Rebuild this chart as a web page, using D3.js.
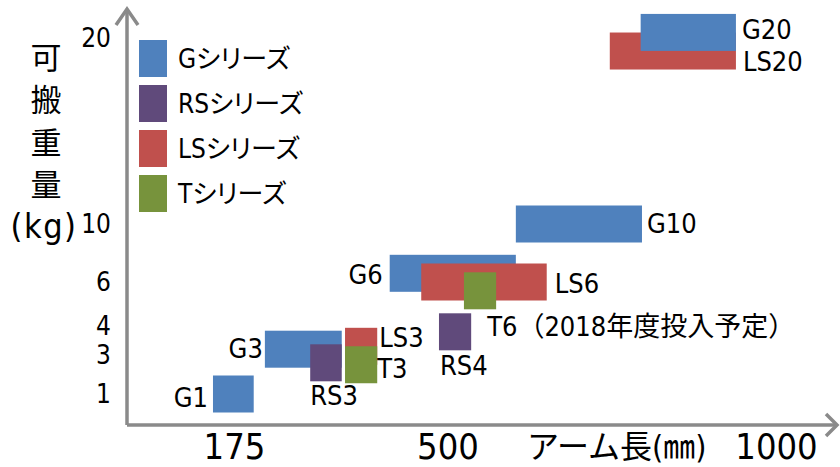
<!DOCTYPE html>
<html>
<head>
<meta charset="utf-8">
<script src="https://cdn.jsdelivr.net/npm/d3@7"></script>
<style>
  html, body { margin: 0; padding: 0; background: #fff; }
  svg text {
    font-family: "DejaVu Sans Condensed", "DejaVu Sans", "Noto Sans CJK JP", sans-serif;
    font-stretch: condensed;
    fill: #000;
  }
  .palt { font-feature-settings: "palt"; }
</style>
</head>
<body>
<svg id="chart" width="840" height="467"></svg>
<script>
// Robot line-up: reach (mm) on x, payload (kg) on y
const seriesNames  = ["Gシリーズ", "RSシリーズ", "LSシリーズ", "Tシリーズ"];
const seriesColors = ["#4F81BD", "#604A7B", "#C0504D", "#77933C"];

// models, listed in drawing order (later ones sit on top)
const models    = ["G1", "G3", "RS3", "LS3", "T3", "RS4", "G6", "LS6", "T6", "G10", "LS20", "G20"];
const modelText = ["G1", "G3", "RS3", "LS3", "T3", "RS4", "G6", "LS6", "T6（2018年度投入予定）", "G10", "LS20", "G20"];
const modelSeries = [0, 0, 1, 2, 3, 1, 0, 2, 3, 0, 2, 0];
const reachMin  = [143, 222, 291, 344, 344, 487, 412, 460, 525, 604, 747, 794];
const reachMax  = [205, 339, 339, 393, 393, 536, 604, 651, 574, 796, 939, 939];
const payload   = [1.0, 3.2, 2.6, 3.3, 2.5, 3.8, 6.6, 6.0, 5.6, 10, 19.3, 20.3];

const xTicks = [175, 500, 1000];
const yTicks = [1, 3, 4, 6, 10, 20];

// ---- layout -------------------------------------------------------------
const origin = { x: 127, y: 425 };
const boxH = 37;

const svg = d3.select("#chart");

const x = d3.scaleLinear().domain([175, 1000]).range([234, 776]);
// payload axis is stretched unevenly so the small sizes get room
const y = d3.scaleLinear().domain(yTicks).range([394, 355, 326, 282, 224, 38]);

const color = d3.scaleOrdinal().domain(d3.range(seriesNames.length)).range(seriesColors);

// label placement per model: side of the box, and nudge in px
const labelPlace = {
  G1:   { anchor: "end",   from: "left",  dx: -5, dy: 3 },
  G3:   { anchor: "end",   from: "left",  dx: -2, dy: -1 },
  RS3:  { anchor: "start", from: "left",  dx: 0,  dy: 32 },
  LS3:  { anchor: "start", from: "right", dx: 2,  dy: -9 },
  T3:   { anchor: "start", from: "right", dx: 0,  dy: 4 },
  RS4:  { anchor: "start", from: "left",  dx: 1,  dy: 33 },
  G6:   { anchor: "end",   from: "left",  dx: -7, dy: 1 },
  LS6:  { anchor: "start", from: "right", dx: 8,  dy: 1 },
  T6:   { anchor: "start", from: "right", dx: -9, dy: 35 },
  G10:  { anchor: "start", from: "right", dx: 5,  dy: -1 },
  LS20: { anchor: "start", from: "right", dx: 7,  dy: 10 },
  G20:  { anchor: "start", from: "right", dx: 6,  dy: -3 }
};

const rows = models.map((m, i) => ({
  name: m, text: modelText[i], s: modelSeries[i],
  lo: reachMin[i], hi: reachMax[i], kg: payload[i]
}));

// ---- boxes --------------------------------------------------------------
svg.append("g").selectAll("rect").data(rows).join("rect")
  .attr("x", d => x(d.lo))
  .attr("width", d => x(d.hi) - x(d.lo))
  .attr("y", d => y(d.kg) - boxH / 2)
  .attr("height", boxH)
  .attr("fill", d => color(d.s));

svg.append("g").selectAll("text").data(rows).join("text")
  .attr("font-size", 27)
  .attr("text-anchor", d => labelPlace[d.name].anchor)
  .attr("x", d => (labelPlace[d.name].from === "left" ? x(d.lo) : x(d.hi)) + labelPlace[d.name].dx)
  .attr("y", d => y(d.kg) + labelPlace[d.name].dy)
  .attr("dy", "0.36em")
  .text(d => d.text);

// ---- axes ---------------------------------------------------------------
const axisColor = "#8A8A8A";
const axes = svg.append("g")
  .attr("fill", "none").attr("stroke", axisColor)
  .attr("stroke-width", 3.5).attr("stroke-linejoin", "miter");
axes.append("path").attr("d", `M${origin.x},${origin.y} V10 M${origin.x},${origin.y} H836`);
axes.append("path").attr("d", `M116,25 L${origin.x},9 L138,25`);
axes.append("path").attr("d", `M826,414 L837,${origin.y} L826,436`);

const xAxis = svg.append("g")
  .attr("transform", `translate(0,${origin.y})`)
  .call(d3.axisBottom(x).tickValues(xTicks).tickSize(0).tickPadding(8).tickFormat(d3.format("d")));
xAxis.select(".domain").remove();
xAxis.selectAll("text").attr("font-size", 36).attr("font-family", null).attr("fill", "#000");

const yAxis = svg.append("g")
  .attr("transform", `translate(${origin.x},0)`)
  .call(d3.axisLeft(y).tickValues(yTicks).tickSize(0).tickPadding(16).tickFormat(d3.format("d")));
yAxis.select(".domain").remove();
yAxis.selectAll("text").attr("font-size", 26).attr("font-family", null).attr("fill", "#000");

// axis titles
svg.append("text")
  .attr("x", 527).attr("y", 446).attr("dy", "0.36em")
  .attr("font-size", 32)
  .text("アーム長(㎜)");

const yTitle = ["可", "搬", "重", "量"];
svg.append("g").selectAll("text").data(yTitle).join("text")
  .attr("x", 46).attr("y", (d, i) => 58 + i * 42.3).attr("dy", "0.36em")
  .attr("text-anchor", "middle").attr("font-size", 31)
  .text(d => d);
svg.append("text")
  .attr("x", 44).attr("y", 226).attr("dy", "0.36em")
  .attr("text-anchor", "middle").attr("font-size", 34)
  .attr("letter-spacing", 1.5)
  .text("(kg)");

// ---- legend -------------------------------------------------------------
const legend = svg.append("g").selectAll("g").data(seriesNames).join("g")
  .attr("transform", (d, i) => `translate(139,${40 + i * 45})`);
legend.append("rect").attr("width", 28).attr("height", boxH).attr("fill", (d, i) => color(i));
legend.append("text")
  .attr("class", "palt")
  .attr("x", 39).attr("y", boxH / 2).attr("dy", "0.36em")
  .attr("font-size", 26)
  .text(d => d);
</script>
</body>
</html>
